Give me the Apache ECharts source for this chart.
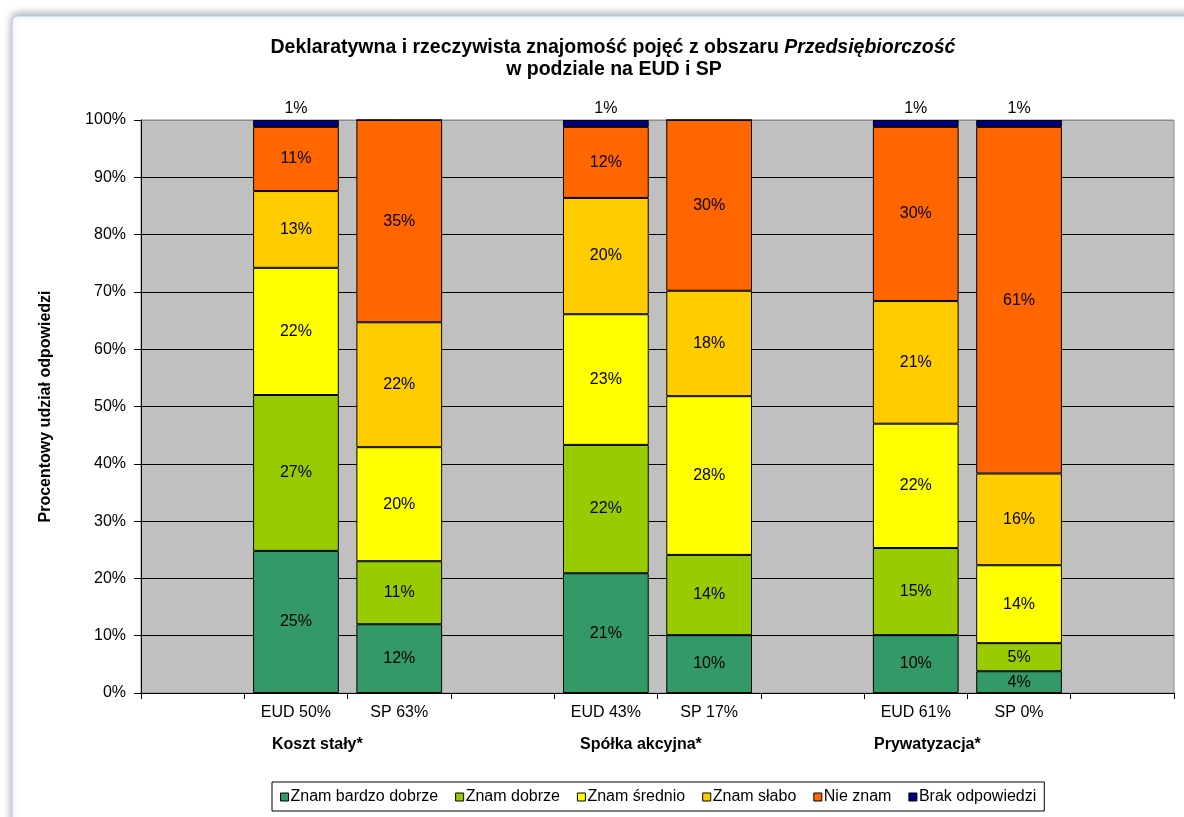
<!DOCTYPE html>
<html>
<head>
<meta charset="utf-8">
<script src="https://cdn.jsdelivr.net/npm/echarts@6/dist/echarts.min.js"></script>
<style>
html,body{margin:0;padding:0;background:#fff;}
#c{width:1184px;height:817px;}
</style>
</head>
<body>
<div id="c"></div>
<script>
// ---- data ----
var categories = ['', 'EUD 50%', 'SP 63%', '', 'EUD 43%', 'SP 17%', '', 'EUD 61%', 'SP 0%', ''];
var groupLabels = ['Koszt stały*', 'Spółka akcyjna*', 'Prywatyzacja*'];
var seriesNames = ['Znam bardzo dobrze', 'Znam dobrze', 'Znam średnio', 'Znam słabo', 'Nie znam', 'Brak odpowiedzi'];
var znamBardzoDobrze = [null, 24.8, 12.0, null, 20.9, 10.1, null, 10.1, 3.8, null];
var znamDobrze       = [null, 27.2, 11.0, null, 22.4, 14.0, null, 15.2, 4.9, null];
var znamSrednio      = [null, 22.2, 19.9, null, 22.8, 27.7, null, 21.7, 13.6, null];
var znamSlabo        = [null, 13.4, 21.8, null, 20.3, 18.4, null, 21.4, 16.0, null];
var nieZnam          = [null, 11.2, 35.3, null, 12.4, 29.8, null, 30.4, 60.5, null];
var brakOdpowiedzi   = [null, 1.2, 0, null, 1.2, 0, null, 1.2, 1.2, null];
var yTicks = [0, 10, 20, 30, 40, 50, 60, 70, 80, 90, 100];

var colors = ['#339966', '#99CC00', '#FFFF00', '#FFCC00', '#FF6600', '#000080'];
var FONT = 'Liberation Sans, Arial, sans-serif';

var chart = echarts.init(document.getElementById('c'));

function fmt(p) {
  if (p.value == null || p.value === 0) return '';
  return Math.round(p.value) + '%';
}

var allData = [znamBardzoDobrze, znamDobrze, znamSrednio, znamSlabo, nieZnam, brakOdpowiedzi];
var series = allData.map(function (d, i) {
  var last = i === allData.length - 1;
  return {
    name: seriesNames[i],
    type: 'bar',
    stack: 'total',
    data: d,
    barCategoryGap: '17%',
    itemStyle: { color: colors[i], borderColor: '#000', borderWidth: 1 },
    label: {
      show: true,
      position: last ? 'top' : 'inside',
      distance: 3,
      formatter: fmt,
      color: '#000',
      fontSize: 16,
      fontFamily: FONT
    },
    emphasis: { disabled: true }
  };
});

var splitColors = yTicks.map(function (t, i) { return i === yTicks.length - 1 ? '#8c8c8c' : '#000'; });

var groupX = [272, 580, 874];

chart.setOption({
  animation: false,
  title: [{
    left: 613, top: 38, padding: 0, textAlign: 'center',
    text: '{b|Deklaratywna i rzeczywista znajomość pojęć z obszaru }{i|Przedsiębiorczość}',
    textStyle: {
      rich: {
        b: { fontSize: 19.5, fontWeight: 'bold', fontFamily: FONT, color: '#000' },
        i: { fontSize: 19.5, fontWeight: 'bold', fontStyle: 'italic', fontFamily: FONT, color: '#000' }
      }
    }
  }, {
    left: 614, top: 60, padding: 0, textAlign: 'center',
    text: 'w podziale na EUD i SP',
    textStyle: { fontSize: 19.5, fontWeight: 'bold', fontFamily: FONT, color: '#000' }
  }],
  legend: {
    data: seriesNames,
    left: 272, top: 782,
    padding: [7, 8, 6, 8],
    itemGap: 17,
    itemWidth: 8, itemHeight: 8,
    icon: 'rect',
    borderColor: '#000', borderWidth: 1,
    backgroundColor: '#fff',
    textStyle: { fontSize: 16, fontFamily: FONT, color: '#000', padding: [0, 0, 0, -3] },
    itemStyle: { borderColor: '#000', borderWidth: 1 },
    selectedMode: false
  },
  grid: {
    left: 141, right: 10, top: 120, bottom: 124,
    show: true, backgroundColor: '#C0C0C0', borderColor: '#8c8c8c', borderWidth: 1
  },
  xAxis: {
    type: 'category',
    data: categories,
    axisLine: { show: true, lineStyle: { color: '#000', width: 1 } },
    axisTick: { show: true, interval: 0, length: 6, lineStyle: { color: '#000' } },
    axisLabel: { interval: 0, fontSize: 16, fontFamily: FONT, color: '#000', margin: 12 }
  },
  yAxis: {
    type: 'value',
    min: 0, max: 100, interval: 10,
    name: 'Procentowy udział odpowiedzi',
    nameLocation: 'middle',
    nameGap: 87,
    nameTextStyle: { fontSize: 16, fontWeight: 'bold', fontFamily: FONT, color: '#000' },
    axisLine: { show: true, lineStyle: { color: '#000', width: 1 } },
    axisTick: { show: true, length: 7, lineStyle: { color: '#000' } },
    axisLabel: { formatter: '{value}%', fontSize: 16, fontFamily: FONT, color: '#000', margin: 15 },
    splitLine: { show: true, lineStyle: { color: splitColors, width: 1 } }
  },
  graphic: [{
    type: 'rect', z: -10, silent: true,
    shape: { x: 12, y: 16, width: 1200, height: 830, r: 6 },
    style: { fill: '#fff', stroke: '#A9C8EC', lineWidth: 1, shadowColor: 'rgba(0,0,0,0.35)', shadowBlur: 8, shadowOffsetY: -2 }
  }].concat(groupLabels.map(function (g, i) {
    return {
      type: 'text', silent: true,
      left: groupX[i], top: 737,
      style: { text: g, fontSize: 16, fontWeight: 'bold', fontFamily: FONT, fill: '#000' }
    };
  })),
  series: series
});
</script>
</body>
</html>
